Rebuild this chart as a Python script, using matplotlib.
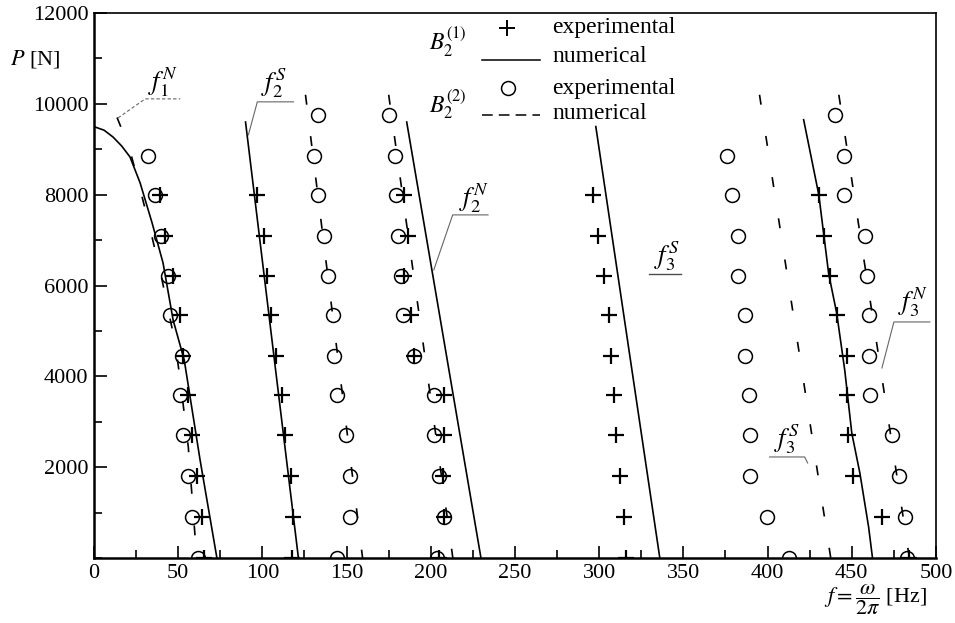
import matplotlib.pyplot as plt  # Plotting
from matplotlib.ticker import MultipleLocator  # Tick spacing

# |-----------------|
# | Fonts and sizes |
# |-----------------|
plt.rcParams["font.family"] = ["Liberation Serif", "DejaVu Serif"]
plt.rcParams["mathtext.fontset"] = "stix"
FS = 16
FS_LEG = 17  # legend words
FS_LAB = 19  # curve labels (f_i^N, f_i^S)

# |------|
# | Data |
# |------|
# Load levels P [N] of the measurements (bottom to top)
P_load = [0, 900, 1800, 2700, 3600, 4450, 5350, 6200, 7100, 8000, 8850, 9750]

# B2^(1) experimental (+), frequency [Hz] per load level
f1N_exp1 = [65.5, 64, 61, 58.5, 56, 53, 51, 47, 42, 39]
f2S_exp1 = [117.5, 118.3, 116.7, 113.7, 111.7, 108.3, 105.2, 102.8, 100.8, 96.8]
f2N_exp1 = [205, 207.7, 207.1, 207.7, 207.7, 189.9, 188.1, 183.9, 186.3, 183.9]
f3S_exp1 = [316, 315, 312.5, 310, 309, 307, 306, 303, 299.5, 296.5]
f3N_exp1 = [484, 468, 451, 448, 447, 447, 441, 437, 433.3, 430.4]

# B2^(2) experimental (o)
f1N_exp2 = [62, 58.5, 56, 53, 51, 52, 45, 44, 40, 36, 32]
f2S_exp2 = [144.6, 151.8, 151.8, 149.4, 144.6, 142.3, 141.7, 138.7, 136.3, 133.3, 130.4, 133.3]
f2N_exp2 = [203.6, 207.7, 204.8, 201.8, 201.8, 189.9, 183.3, 182.1, 180.4, 179.2, 178.6, 175]
f3S_exp2 = [413, 399.4, 389.3, 389.3, 388.7, 386.3, 386.3, 382.7, 382.7, 378.6, 375.6]
f3N_exp2 = [482.7, 481.5, 478, 473.8, 460.7, 460.1, 460.1, 458.9, 457.7, 445.2, 445.2, 439.9]

# B2^(1) numerical (solid), (f, P) from top to bottom
f1N_num1_f = [0.6, 6, 11.3, 16.5, 21.4, 27.4, 34.5, 41, 47, 53.6, 63, 73]
f1N_num1_P = [9490, 9420, 9270, 9070, 8830, 8260, 7380, 6500, 5240, 4360, 2160, 0]
f2S_num1_f = [90, 121.4]
f2S_num1_P = [9600, 0]
f2N_num1_f = [185.7, 229.8]
f2N_num1_P = [9600, 0]
f3S_num1_f = [298, 336]
f3S_num1_P = [9500, 0]
f3N_num1_f = [421.4, 430.4, 436.3, 441, 445.8, 450, 454.8, 460, 462.3]
f3N_num1_P = [9650, 8000, 6250, 5400, 4140, 2750, 1870, 680, 0]

# B2^(2) numerical (dashed)
f1N_num2_f = [13.7, 20.8, 25.6, 33, 40, 45, 48.2, 51.2, 56, 61]
f1N_num2_P = [9700, 9050, 8390, 7300, 6200, 5300, 4740, 3920, 2450, 0]
f2S_num2_f = [125.6, 159.5]
f2S_num2_P = [10200, 0]
f2N_num2_f = [175, 213.1]
f2N_num2_P = [10200, 0]
f3S_num2_f = [395.2, 437.5]
f3S_num2_P = [10200, 0]
f3N_num2_f = [442.3, 484.2]
f3N_num2_P = [10200, 0]

# |--------|
# | Figure |
# |--------|
fig = plt.figure(figsize=(9.55, 6.23), dpi=100)
ax = fig.add_axes([0.0984, 0.1043, 0.8817, 0.8748])

sparse_dash = (0, (6, 19))

# Numerical curves
for xs, ys in [(f1N_num1_f, f1N_num1_P), (f2S_num1_f, f2S_num1_P),
               (f2N_num1_f, f2N_num1_P), (f3S_num1_f, f3S_num1_P),
               (f3N_num1_f, f3N_num1_P)]:
    ax.plot(xs, ys, color="black", lw=1.2)
for xs, ys in [(f1N_num2_f, f1N_num2_P), (f2S_num2_f, f2S_num2_P),
               (f2N_num2_f, f2N_num2_P), (f3S_num2_f, f3S_num2_P),
               (f3N_num2_f, f3N_num2_P)]:
    ax.plot(xs, ys, color="black", lw=1.2, ls=sparse_dash)

# Experimental points
for f in [f1N_exp1, f2S_exp1, f2N_exp1, f3S_exp1, f3N_exp1]:
    ax.plot(f, P_load[:len(f)], "+", color="black", ms=12, mew=1.6)
for f in [f1N_exp2, f2S_exp2, f2N_exp2, f3S_exp2, f3N_exp2]:
    ax.plot(f, P_load[:len(f)], "o", mfc="none", mec="black", ms=10, mew=1.1)

# |-------------------------|
# | Curve labels + leaders  |
# |-------------------------|
lead = dict(color="0.4", lw=0.8)
ax.text(41, 10480, r"$f_1^N$", fontsize=FS_LAB, ha="center", va="center")
ax.plot([14.3, 30.4, 51.2], [9690, 10110, 10110], ls=(0, (3, 2)), **lead)
ax.text(106.5, 10450, r"$f_2^S$", fontsize=FS_LAB, ha="center", va="center")
ax.plot([91.7, 97, 118.5], [9317, 10044, 10044], **lead)
ax.text(225.6, 7930, r"$f_2^N$", fontsize=FS_LAB, ha="center", va="center")
ax.plot([201.8, 213, 234], [6344, 7555, 7555], **lead)
ax.text(340, 6650, r"$f_3^S$", fontsize=FS_LAB, ha="center", va="center")
ax.plot([329.8, 348.8], [6255, 6255], color="0.3", lw=1.0)
ax.text(411.3, 2610, r"$f_3^S$", fontsize=FS_LAB, ha="center", va="center")
ax.plot([401.2, 422, 423.8], [2225, 2225, 2093], **lead)
ax.text(486.3, 5620, r"$f_3^N$", fontsize=FS_LAB, ha="center", va="center")
ax.plot([467.9, 475, 496.4], [4185, 5198, 5198], **lead)

# |--------|
# | Legend |
# |--------|
tr = ax.transAxes
ax.text(0.420, 0.946, r"$B_2^{(1)}$", fontsize=FS + 1, ha="center", va="center", transform=tr)
ax.plot([0.4905], [0.9725], "+", color="black", ms=12, mew=1.4, transform=tr)
ax.text(0.544, 0.974, "experimental", fontsize=FS_LEG, va="center", transform=tr)
ax.plot([0.461, 0.530], [0.914, 0.914], color="black", lw=1.1, transform=tr)
ax.text(0.544, 0.921, "numerical", fontsize=FS_LEG, va="center", transform=tr)
ax.plot([0.4917], [0.862], "o", mfc="none", mec="black", ms=10, mew=1.1, transform=tr)
ax.text(0.544, 0.862, "experimental", fontsize=FS_LEG, va="center", transform=tr)
ax.text(0.420, 0.832, r"$B_2^{(2)}$", fontsize=FS + 1, ha="center", va="center", transform=tr)
ax.plot([0.461, 0.530], [0.813, 0.813], color="black", lw=1.1, ls=(0, (7, 4)), transform=tr)
ax.text(0.544, 0.815, "numerical", fontsize=FS_LEG, va="center", transform=tr)

# |------|
# | Axes |
# |------|
ax.set_xlim(0, 500)
ax.set_ylim(0, 12000)
ax.xaxis.set_major_locator(MultipleLocator(50))
ax.xaxis.set_minor_locator(MultipleLocator(25))
ax.yaxis.set_major_locator(MultipleLocator(2000))
ax.yaxis.set_minor_locator(MultipleLocator(1000))
ax.tick_params(which="both", direction="in", top=False, right=False,
               labelsize=FS, width=1.2, pad=4)
ax.tick_params(which="major", length=9)
ax.tick_params(which="minor", length=6)
ax.set_yticks(range(2000, 12001, 2000))
ax.set_yticklabels([str(v) for v in range(2000, 12001, 2000)])
for side in ["left", "bottom"]:
    ax.spines[side].set_linewidth(1.8)
for side in ["top", "right"]:
    ax.spines[side].set_linewidth(1.2)

fig.text(0.0105, 0.905, r"$P$ [N]", fontsize=FS, va="center", ha="left")
fig.text(0.9707, 0.037, r"$f=\dfrac{\omega}{2\pi}$ [Hz]", fontsize=FS, va="center", ha="right")

fig.savefig("out.png", dpi=100)
